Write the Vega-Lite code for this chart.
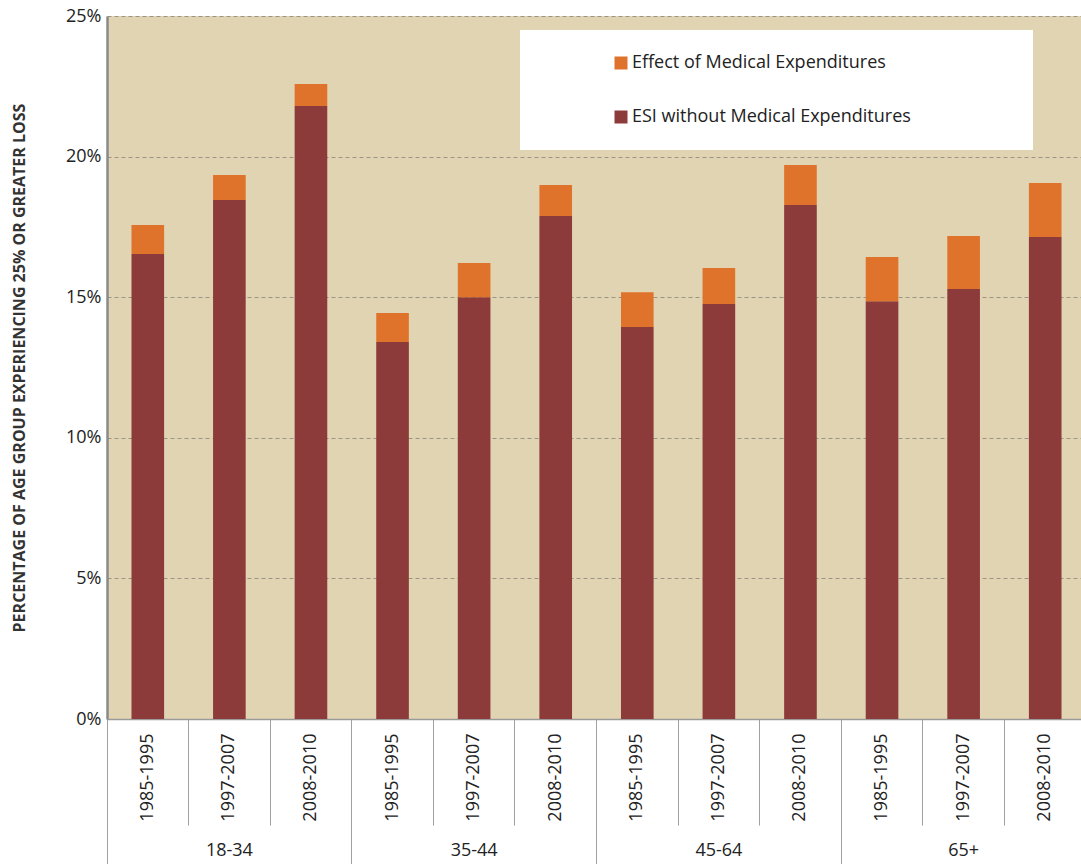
{
  "$schema": "https://vega.github.io/schema/vega-lite/v6.json",
  "width": 979,
  "height": 703,
  "autosize": "none",
  "padding": {"left": 107, "top": 16, "right": 0, "bottom": 145},
  "background": "white",
  "config": {
    "view": {"stroke": null, "fill": "#E1D4B3"},
    "font": "Open Sans"
  },
  "data": {
    "values": [
      {"bar": "18-34|1985-1995", "component": "ESI without Medical Expenditures", "value": 16.54},
      {"bar": "18-34|1985-1995", "component": "Effect of Medical Expenditures", "value": 1.03},
      {"bar": "18-34|1997-2007", "component": "ESI without Medical Expenditures", "value": 18.46},
      {"bar": "18-34|1997-2007", "component": "Effect of Medical Expenditures", "value": 0.89},
      {"bar": "18-34|2008-2010", "component": "ESI without Medical Expenditures", "value": 21.8},
      {"bar": "18-34|2008-2010", "component": "Effect of Medical Expenditures", "value": 0.78},
      {"bar": "35-44|1985-1995", "component": "ESI without Medical Expenditures", "value": 13.41},
      {"bar": "35-44|1985-1995", "component": "Effect of Medical Expenditures", "value": 1.03},
      {"bar": "35-44|1997-2007", "component": "ESI without Medical Expenditures", "value": 15.0},
      {"bar": "35-44|1997-2007", "component": "Effect of Medical Expenditures", "value": 1.22},
      {"bar": "35-44|2008-2010", "component": "ESI without Medical Expenditures", "value": 17.89},
      {"bar": "35-44|2008-2010", "component": "Effect of Medical Expenditures", "value": 1.1},
      {"bar": "45-64|1985-1995", "component": "ESI without Medical Expenditures", "value": 13.94},
      {"bar": "45-64|1985-1995", "component": "Effect of Medical Expenditures", "value": 1.24},
      {"bar": "45-64|1997-2007", "component": "ESI without Medical Expenditures", "value": 14.76},
      {"bar": "45-64|1997-2007", "component": "Effect of Medical Expenditures", "value": 1.28},
      {"bar": "45-64|2008-2010", "component": "ESI without Medical Expenditures", "value": 18.28},
      {"bar": "45-64|2008-2010", "component": "Effect of Medical Expenditures", "value": 1.42},
      {"bar": "65+|1985-1995", "component": "ESI without Medical Expenditures", "value": 14.86},
      {"bar": "65+|1985-1995", "component": "Effect of Medical Expenditures", "value": 1.57},
      {"bar": "65+|1997-2007", "component": "ESI without Medical Expenditures", "value": 15.29},
      {"bar": "65+|1997-2007", "component": "Effect of Medical Expenditures", "value": 1.89},
      {"bar": "65+|2008-2010", "component": "ESI without Medical Expenditures", "value": 17.14},
      {"bar": "65+|2008-2010", "component": "Effect of Medical Expenditures", "value": 1.92}
    ]
  },
  "layer": [
    {
      "mark": {"type": "bar", "width": {"band": 0.4}},
      "encoding": {
        "x": {
          "field": "bar",
          "type": "nominal",
          "sort": null,
          "scale": {"paddingInner": 0, "paddingOuter": 0},
          "axis": {
            "title": null,
            "labelExpr": "split(datum.label, '|')[1]",
            "labelAngle": -90,
            "labelFontSize": 18,
            "labelColor": "#222222",
            "bandPosition": 0,
            "tickSize": 106,
            "tickColor": "#A0A0A0",
            "labelPadding": -92,
            "domainColor": "#9A9A9A",
            "domainWidth": 1.5
          }
        },
        "y": {
          "field": "value",
          "type": "quantitative",
          "stack": "zero",
          "scale": {"domain": [0, 25], "nice": false},
          "axis": {
            "title": "PERCENTAGE OF AGE GROUP EXPERIENCING 25% OR GREATER LOSS",
            "titleFontSize": 16,
            "titleFontWeight": "bold",
            "titleColor": "#333333",
            "titlePadding": 38,
            "values": [0, 5, 10, 15, 20, 25],
            "labelExpr": "datum.value + '%'",
            "labelFontSize": 18,
            "labelColor": "#222222",
            "labelPadding": 6,
            "ticks": false,
            "domainColor": "#8A8A8A",
            "domainWidth": 2.5,
            "grid": true,
            "gridDash": [4, 3],
            "gridColor": "#9A9484",
            "gridWidth": 1
          }
        },
        "color": {
          "field": "component",
          "type": "nominal",
          "scale": {
            "domain": ["Effect of Medical Expenditures", "ESI without Medical Expenditures"],
            "range": ["#E0732B", "#8D3B3A"]
          },
          "legend": {
            "title": " ",
            "titleOrient": "right",
            "titlePadding": 98,
            "orient": "none",
            "legendX": 413,
            "legendY": 14,
            "fillColor": "white",
            "padding": 24,
            "symbolType": "square",
            "symbolSize": 169,
            "symbolStrokeWidth": 0,
            "symbolOffset": 68,
            "labelOffset": 2,
            "labelFontSize": 18,
            "labelColor": "#222222",
            "labelLimit": 400,
            "rowPadding": 36
          }
        },
        "order": {"field": "component", "sort": "ascending"}
      }
    },
    {
      "mark": {"type": "bar", "opacity": 0},
      "encoding": {
        "x": {
          "field": "bar",
          "type": "nominal",
          "sort": null,
          "scale": {"paddingInner": 0, "paddingOuter": 0},
          "axis": {
            "orient": "bottom",
            "title": null,
            "values": ["18-34|1985-1995", "35-44|1985-1995", "45-64|1985-1995", "65+|1985-1995"],
            "bandPosition": 0,
            "tickSize": 146,
            "tickColor": "#A0A0A0",
            "domain": false,
            "grid": false,
            "labelExpr": "split(datum.label, '|')[0]",
            "labelAngle": 0,
            "labelAlign": "center",
            "labelBaseline": "top",
            "labelOffset": 81.6,
            "labelPadding": -24,
            "labelFontSize": 18,
            "labelColor": "#222222"
          }
        },
        "y": {"field": "value", "type": "quantitative", "stack": "zero", "scale": {"domain": [0, 25], "nice": false}}
      }
    }
  ],
  "resolve": {"scale": {"x": "independent"}, "axis": {"x": "independent"}}
}
